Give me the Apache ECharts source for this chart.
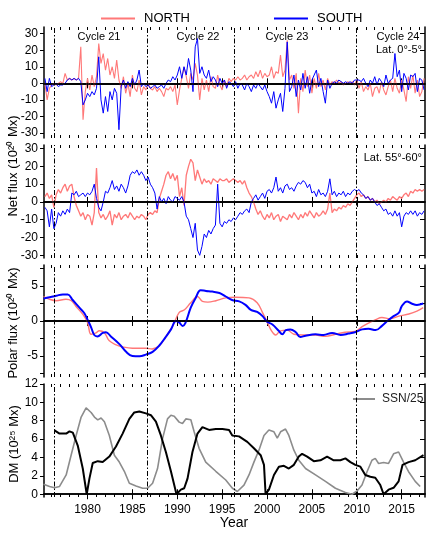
<!DOCTYPE html>
<html>
<head>
<meta charset="utf-8">
<script src="https://cdn.jsdelivr.net/npm/echarts@6/dist/echarts.min.js"></script>
<style>html,body{margin:0;padding:0;background:#fff}</style>
</head>
<body>
<div id="chart" style="width:433px;height:541px"></div>
<script>
// 周期極小の位置（縦の一点鎖線）
const cycleMin = [1976.3, 1986.6, 1996.3, 2009.9]
const yearTicks = [1980, 1985, 1990, 1995, 2000, 2005, 2010, 2015]
const minorYears = [1976, 1977, 1978, 1979, 1980, 1981, 1982, 1983, 1984, 1985, 1986, 1987, 1988, 1989, 1990,
  1991, 1992, 1993, 1994, 1995, 1996, 1997, 1998, 1999, 2000, 2001, 2002, 2003, 2004, 2005,
  2006, 2007, 2008, 2009, 2010, 2011, 2012, 2013, 2014, 2015, 2016, 2017]

// Net flux, Lat 0-5 (4 values / year, from 1975.25)
const north0 = [
  0, -10, -3, -1, 0, -1, 0, 1, 0, 6, 2, 3, 2, 3, 2, 3, 22, -22, -5, 3,
  -4, 5, -2, 4, 24, 12, 18, 8, 15, 5, 10, 3, 14, 2, -3, 4, -6, 0, -8, 5,
  -3, -5, 2, -7, -2, -4, 0, -3, -4, -2, -5, -3, -5, -8, -3, -4, -2, -5, -1, -13,
  -4, 3, 10, 4, -3, 6, 2, 12, 5, -10, 3, -4, 2, -5, 4, -2, -3, 5, -1, -4,
  2, -2, 3, 1, 3, 2, 4, 2, 3, 5, 2, 4, 5, 3, 7, 4, 8, 3, 6, 4,
  5, 10, 3, 7, 6, 17, 4, 8, 26, 2, 5, -3, 6, -18, 3, -5, 8, -2, 5, -6,
  3, -3, 6, -2, 2, -4, 3, -1, 1, 0, 2, 0, 1, -1, 0, 1, 0, 1, -1, 2,
  -3, 1, -5, -2, -4, 0, -8, -3, -2, -6, 1, -4, -7, -2, 2, -5, 3, -3, -6, 2,
  -4, -11, 4, -3, 5, -6, 2, -8, -5, 3
]
const south0 = [
  3, -5, 3, -2, -1, 0, -2, -1, -1, 0, 2, 3, 2, 3, 2, 3, 1, -13, -10, -6,
  -8, -5, -7, -3, 16, -10, -18, -8, -17, -5, -10, -3, -6, -28, -2, 2, -3, 1, -2, 3,
  -1, 2, 8, -2, 0, -2, -1, -3, -2, -1, -3, -2, -1, -3, 0, 2, 1, 4, 2, 5,
  10, 3, 10, 5, 15, 8, -5, 22, 27, 6, 10, 5, 3, 8, 1, 4, 2, -2, 3, 0,
  2, -3, 1, 0, -2, 1, -3, 0, -1, -4, 0, -2, -5, -1, -3, 0, -2, -4, -1, -5,
  -8, -12, -5, -15, -10, -6, -17, -3, 25, -5, -2, 5, -8, 2, -4, 6, -3, 4, -6, 2,
  5, 8, -2, 3, -5, -12, 2, -3, 0, 1, 0, 2, 1, 0, 1, 0, 1, 0, 2, 2,
  2, 1, 3, 0, -2, 2, 0, 4, -1, 3, 1, -2, 5, 0, 2, 3, 18, 4, 8, -5,
  6, 3, -4, 5, 4, 6, -5, 3, 2, -4
]
// Net flux, Lat 55-60
const north55 = [
  3, 5, 2, 4, -3, 4, 7, 5, 8, 10, 6, 9, 10, 3, -2, -5, -8, -6, -10, -7,
  -8, -13, -6, 19, -6, -9, -7, -10, -8, -5, -13, -7, -9, -6, -10, -8, -7, -9, -6, -8,
  -10, -8, -9, -7, -8, -10, -7, -6, -7, -5, -6, 2, 6, 10, 15, 17, 13, 16, 12, 15,
  3, 8, -2, 15, 20, 24, 22, 12, 18, 14, 10, 13, 11, 12, 10, 13, 12, 11, 13, 12,
  12, 13, 11, 12, 13, 12, 11, 12, 10, 12, 8, 5, 3, 0, -4, -7, -5, -8, -10, -7,
  -9, -6, -10, -8, -7, -11, -8, -9, -10, -7, -9, -6, -8, -10, -7, -9, -6, -8, -5, -7,
  -9, -6, -8, -7, -5, -7, -4, 5, -6, -4, -5, -3, -4, -2, -3, -1, -2, 0, 2, 4,
  5, 3, 4, 2, 3, 1, 2, 0, 1, -1, 0, 1, 0, 2, 1, 3, 2, 1, 3, 2,
  4, 5, 3, 6, 5, 7, 6, 7, 6, 7
]
const south55 = [
  -3, -5, -14, -4, -15, -12, -6, -8, -5, -7, -4, -6, 5, 4, 6, 3, 4, 5, 3, 5,
  4, 6, 10, 2, -3, -5, 0, 6, 5, 8, 12, 7, 9, 6, 10, 8, 5, 9, 15, 17,
  16, 18, 15, 17, 15, 12, 14, 10, 8, 5, -4, 3, 0, 2, -1, 3, 1, 0, 3, 2,
  1, 3, 0, -8, -10, -15, -20, -12, -27, -30, -25, -18, -20, -16, -18, -15, -13, 10, -12, -14,
  -11, -12, -10, -11, -9, -10, -8, -6, -7, -5, -4, -6, 0, 2, 4, 1, 3, 5, 2, 6,
  7, 5, 8, 14, 6, 8, 5, 9, 10, 7, 8, 6, 9, 11, 10, 12, 11, 8, 10, 5,
  6, 3, 7, 4, 5, 3, 6, 13, 4, 6, 3, 5, 4, 6, 3, 5, 4, 6, 7, 6,
  7, 5, 4, 2, 3, 1, 2, 0, -2, -1, -3, -5, -4, -7, -6, -8, -5, -8, -6, -14,
  -8, -6, -7, -5, -7, -5, -8, -6, -7, -5
]

// Polar flux
const polarYearsN = [1975.1, 1975.77, 1976.5, 1977.6, 1978.2, 1978.7, 1979.5, 1980.0, 1980.4, 1980.95,
  1981.3, 1981.9, 1982.4, 1983.2, 1983.9, 1985.0, 1986.5, 1987.2, 1988.0, 1988.7,
  1989.5, 1990.2, 1990.8, 1991.5, 1992.25, 1992.8, 1993.4, 1994.3, 1995.4, 1996.5,
  1998.0, 1998.9, 1999.5, 2000.0, 2000.5, 2000.95, 2001.5, 2002.25, 2003.0, 2003.9,
  2005.4, 2006.5, 2007.6, 2008.7, 2009.8, 2010.6, 2011.3, 2012.1, 2012.8, 2013.7,
  2014.7, 2015.8, 2016.7, 2017.4]
const polarN = [3.5, 3.1, 2.9, 3.1, 2.9, 2.1, 0.9, -0.2, -1.9, -1.7,
  -1.4, -1.7, -2.8, -3.4, -3.7, -3.9, -3.9, -4.0, -3.5, -2.3,
  -0.7, 1.2, 1.6, 2.6, 3.5, 2.8, 2.7, 2.9, 3.3, 3.4,
  3.3, 2.6, 1.2, -0.1, -1.4, -2.0, -1.4, -1.3, -1.9, -2.0,
  -2.0, -2.2, -1.9, -1.6, -1.5, -0.8, -0.3, 0.2, 0.5, 0.3,
  0.7, 1.0, 1.4, 1.9]
const polarYearsS = [1975.1, 1975.77, 1976.5, 1977.25, 1977.8, 1978.35, 1979.1, 1979.65, 1980.0, 1980.4,
  1980.75, 1981.1, 1981.7, 1982.05, 1982.6, 1983.55, 1984.3, 1985.0, 1985.8, 1986.5,
  1987.25, 1988.0, 1988.7, 1989.3, 1989.85, 1990.2, 1990.6, 1990.9, 1991.5, 1992.05,
  1992.6, 1993.2, 1993.9, 1994.7, 1995.4, 1996.1, 1996.9, 1997.6, 1998.2, 1998.9,
  1999.5, 2000.0, 2000.6, 2001.3, 2001.7, 2002.1, 2002.6, 2003.2, 2003.7, 2004.3,
  2005.4, 2006.3, 2007.25, 2008.2, 2009.1, 2009.8, 2010.6, 2011.3, 2012.1, 2012.8,
  2013.5, 2014.1, 2014.7, 2015.0, 2015.6, 2016.1, 2016.7, 2017.4]
const polarS = [3.2, 3.4, 3.6, 3.8, 3.8, 3.0, 1.9, 1.1, 0.2, -0.9,
  -2.0, -2.2, -1.7, -1.6, -2.2, -3.3, -4.4, -5.0, -5.05, -4.8,
  -4.4, -3.5, -2.3, -1.2, 0.0, -0.2, -0.7, -0.3, 1.9, 3.3,
  4.4, 4.3, 4.2, 4.0, 3.5, 3.0, 2.8, 2.3, 1.6, 1.3,
  0.7, -0.1, -0.5, -1.4, -1.9, -1.3, -1.2, -1.6, -2.3, -2.1,
  -1.9, -2.0, -1.7, -2.0, -1.8, -1.6, -1.2, -1.1, -1.3, -0.7,
  0.1, 0.7, 1.2, 2.1, 2.8, 2.5, 2.3, 2.5]

// Dipole moment and SSN/25
const dmYears = [1976.32, 1976.88, 1977.62, 1977.99, 1978.36, 1978.91, 1979.47, 1979.91, 1980.21, 1980.58,
  1981.14, 1981.69, 1982.43, 1983.17, 1983.91, 1984.66, 1985.21, 1985.77, 1986.51, 1987.06,
  1987.62, 1988.17, 1988.73, 1989.29, 1989.91, 1990.4, 1990.77, 1991.14, 1991.69, 1992.25,
  1992.8, 1993.54, 1994.29, 1995.03, 1995.77, 1996.13, 1996.88, 1997.8, 1998.54, 1999.29,
  1999.66, 1999.84, 2000.21, 2000.77, 2001.32, 2001.88, 2002.43, 2002.99, 2003.54, 2003.91,
  2004.47, 2005.21, 2005.95, 2006.69, 2007.43, 2008.17, 2008.73, 2009.29, 2009.84, 2010.4,
  2010.95, 2011.51, 2012.06, 2012.62, 2012.99, 2013.54, 2014.1, 2014.66, 2015.1, 2015.77,
  2016.51, 2017.43]
const dm = [6.95, 6.6, 6.6, 6.85, 6.7, 5.3, 2.8, 0, 1.7, 3.4,
  3.6, 3.5, 4.1, 5.2, 6.6, 8.2, 8.9, 9.0, 8.8, 8.6,
  7.9, 6.4, 4.6, 2.5, 0, 0.5, 0.65, 1.7, 4.6, 6.6,
  7.3, 7.0, 7.1, 7.1, 7.0, 6.4, 6.3, 5.7, 5.0, 4.25,
  3.2, 0, 0.5, 2.1, 3.0, 3.1, 2.8, 3.2, 4.1, 4.4,
  4.1, 3.6, 3.7, 4.1, 3.7, 3.7, 3.9, 3.5, 3.2, 3.0,
  2.1, 1.9, 1.8, 1.0, 0, 0.5, 0.7, 1.4, 3.2, 3.5,
  3.7, 4.25]
const ssnYears = [1975.1, 1975.77, 1976.32, 1976.88, 1977.62, 1978.17, 1978.73, 1979.29, 1979.84, 1980.4,
  1980.77, 1981.14, 1981.51, 1981.88, 1982.43, 1982.99, 1983.54, 1984.1, 1984.66, 1985.4,
  1986.14, 1986.69, 1987.25, 1987.8, 1988.36, 1988.91, 1989.29, 1989.66, 1990.21, 1990.58,
  1990.95, 1991.51, 1991.88, 1992.43, 1993.17, 1994.29, 1995.4, 1996.14, 1996.69, 1997.43,
  1997.99, 1998.54, 1999.1, 1999.66, 2000.21, 2000.77, 2001.14, 2001.51, 2002.06, 2002.43,
  2002.99, 2003.54, 2004.29, 2005.4, 2006.51, 2007.62, 2008.73, 2009.47, 2010.03, 2010.58,
  2011.14, 2011.69, 2012.06, 2012.43, 2012.99, 2013.54, 2014.1, 2014.66, 2015.21, 2015.77,
  2016.51, 2017.06]
const ssn25 = [1.1, 0.85, 0.7, 0.85, 2.1, 4.25, 6.4, 8.4, 9.4, 8.9,
  8.4, 8.1, 8.3, 7.9, 6.4, 4.25, 3.5, 2.5, 1.2, 0.9,
  0.65, 0.65, 1.2, 2.8, 6.05, 8.2, 8.6, 8.5, 7.85, 7.7,
  8.2, 8.1, 6.8, 5.0, 3.5, 2.5, 1.55, 0.65, 0.3, 1.0,
  2.1, 3.5, 4.8, 6.4, 7.0, 6.8, 6.1, 6.8, 7.1, 6.4,
  4.8, 3.7, 2.8, 2.1, 1.4, 0.65, 0.2, 0, 0.35, 1.0,
  2.45, 3.7, 3.9, 3.35, 3.45, 3.35, 4.4, 4.6, 3.5, 2.45,
  1.4, 0.85]

const fluxYears = north0.map((_, i) => 1975.25 + i * 0.25)

const FONT = '"Liberation Sans", Arial, Helvetica, sans-serif'
const RED = '#ff7878'
const BLUE = '#0000ff'

// パネル配置
const panels = [
  { top: 27, height: 111, min: -33, max: 34, ticks: [-30, -20, -10, 0, 10, 20, 30], labels: [-30, -20, -10, 0, 10, 20, 30] },
  { top: 145, height: 113, min: -31.5, max: 32, ticks: [-30, -20, -10, 0, 10, 20, 30], labels: [-30, -20, -10, 0, 10, 20, 30] },
  { top: 265, height: 112, min: -8, max: 8, ticks: [-7.5, -5, -2.5, 0, 2.5, 5, 7.5], labels: [-5, 0, 5] },
  { top: 384, height: 113, min: -0.3, max: 12, ticks: [0, 2, 4, 6, 8, 10, 12], labels: [0, 2, 4, 6, 8, 10, 12] },
]

const frame = { show: true, lineStyle: { color: '#000', width: 1.5 } }
const grid = []
const xAxis = []
const yAxis = []
panels.forEach((p, i) => {
  grid.push({ left: 44, right: 8, top: p.top, height: p.height })
  const base = { type: 'value', gridIndex: i, min: 1975.15, max: 2017.6, splitLine: { show: false } }
  xAxis.push({
    ...base, position: 'bottom', axisLine: frame,
    axisTick: { inside: true, length: 5, customValues: yearTicks, lineStyle: { color: '#000' } },
    axisLabel: {
      show: i === 3, customValues: yearTicks, color: '#000', fontSize: 12, fontFamily: FONT, margin: 7,
      formatter: (v) => String(Math.round(v)),
    },
  })
  xAxis.push({
    ...base, position: 'top', axisLine: frame,
    axisTick: { inside: true, length: 5, customValues: yearTicks, lineStyle: { color: '#000' } },
    axisLabel: { show: false },
  })
  xAxis.push({
    ...base, position: 'bottom', axisLine: { show: false },
    axisTick: { inside: true, length: 3, customValues: minorYears, lineStyle: { color: '#000' } },
    axisLabel: { show: false },
  })
  xAxis.push({
    ...base, position: 'top', axisLine: { show: false },
    axisTick: { inside: true, length: 3, customValues: minorYears, lineStyle: { color: '#000' } },
    axisLabel: { show: false },
  })
  yAxis.push({
    type: 'value', gridIndex: i, position: 'left', min: p.min, max: p.max,
    axisLine: frame, splitLine: { show: false },
    axisTick: { inside: false, length: 4, customValues: p.ticks, lineStyle: { color: '#000' } },
    axisLabel: { customValues: p.labels, color: '#000', fontSize: 12, fontFamily: FONT, margin: 6 },
  })
  yAxis.push({
    type: 'value', gridIndex: i, position: 'right', min: p.min, max: p.max,
    axisLine: frame, splitLine: { show: false },
    axisTick: { inside: true, length: 5, customValues: p.ticks, lineStyle: { color: '#000' } },
    axisLabel: { show: false },
  })
})

const dashDot = { color: '#000', width: 1, type: [5, 2, 1.5, 2] }
function marks(withZero) {
  const data = cycleMin.map((v) => ({ xAxis: v, lineStyle: dashDot }))
  if (withZero) data.push({ yAxis: 0, lineStyle: { color: '#000', width: 1.5, type: 'solid' } })
  return { silent: true, symbol: ['none', 'none'], label: { show: false }, data, animation: false }
}

function line(name, g, xs, ys, color, width, extra) {
  return Object.assign({
    name, type: 'line', xAxisIndex: 4 * g, yAxisIndex: 2 * g,
    data: xs.map((x, k) => [x, ys[k]]),
    showSymbol: false, symbol: 'none',
    lineStyle: { color, width }, itemStyle: { color },
    emphasis: { disabled: true }, animation: false,
  }, extra || {})
}

const series = [
  line('NORTH', 0, fluxYears, north0, RED, 1.1),
  line('SOUTH', 0, fluxYears, south0, BLUE, 1, { markLine: marks(true) }),
  line('NORTH', 1, fluxYears, north55, RED, 1.3),
  line('SOUTH', 1, fluxYears, south55, BLUE, 1, { markLine: marks(true) }),
  line('NORTH', 2, polarYearsN, polarN, RED, 1.4, { smooth: 0.4 }),
  line('SOUTH', 2, polarYearsS, polarS, BLUE, 2, { smooth: 0.4, markLine: marks(true) }),
  line('SSN/25', 3, ssnYears, ssn25, '#8c8c8c', 1.6),
  line('DM', 3, dmYears, dm, '#000', 2, { markLine: marks(false) }),
]

const yText = (text, x, y) => ({
  type: 'text', x, y, rotation: Math.PI / 2,
  style: { text, align: 'center', verticalAlign: 'middle', font: '13px ' + FONT, fill: '#000' },
})
const label = (text, x, y, align) => ({
  type: 'text', x, y,
  style: { text, align: align || 'center', verticalAlign: 'middle', font: '11px ' + FONT, fill: '#000' },
})

const option = {
  animation: false,
  legend: [
    {
      data: ['NORTH', 'SOUTH'], left: 96, top: 7, icon: 'rect', itemWidth: 34, itemHeight: 2, itemGap: 84,
      selectedMode: false, textStyle: { fontSize: 13, fontFamily: FONT, color: '#000', padding: [0, 0, 0, 4] },
    },
    {
      data: ['SSN/25'], left: 348, top: 388, icon: 'rect', itemWidth: 22, itemHeight: 2,
      selectedMode: false, textStyle: { fontSize: 12, fontFamily: FONT, color: '#222', padding: [0, 0, 0, 2] },
    },
  ],
  grid, xAxis, yAxis, series,
  graphic: [
    label('Cycle 21', 99, 37),
    label('Cycle 22', 198, 37),
    label('Cycle 23', 287, 37),
    label('Cycle 24', 398, 37),
    label('Lat. 0°-5°', 422, 50, 'right'),
    label('Lat. 55°-60°', 422, 158, 'right'),
    yText('Net flux (10²⁰ Mx)', 13, 166),
    yText('Polar flux (10²⁰ Mx)', 13, 323),
    yText('DM (10²⁵ Mx)', 14, 444),
    { type: 'text', x: 234, y: 523, style: { text: 'Year', align: 'center', verticalAlign: 'middle', font: '14px ' + FONT, fill: '#000' } },
  ],
}

const chart = echarts.init(document.getElementById('chart'))
chart.setOption(option)
</script>
</body>
</html>
